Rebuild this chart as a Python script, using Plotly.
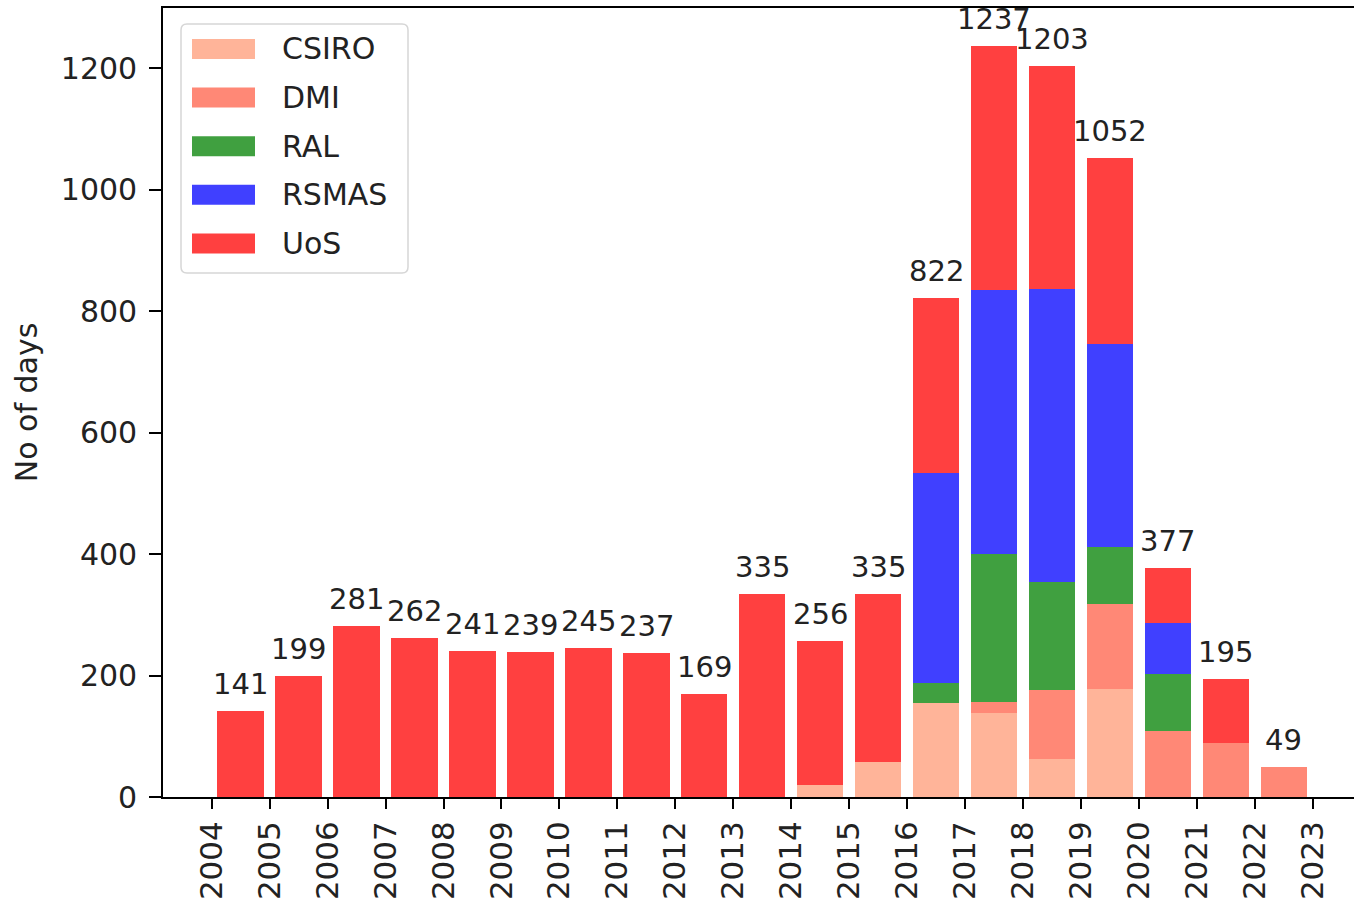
import plotly.graph_objects as go

years = list(range(2004, 2023))
tick_years = list(range(2004, 2024))
tick_labels = [str(y) for y in tick_years]

csiro = [0, 0, 0, 0, 0, 0, 0, 0, 0, 0, 20, 58, 154, 138, 62, 177, 0, 0, 0]
dmi   = [0, 0, 0, 0, 0, 0, 0, 0, 0, 0, 0, 0, 0, 19, 114, 140, 109, 89, 49]
ral   = [0, 0, 0, 0, 0, 0, 0, 0, 0, 0, 0, 0, 34, 243, 178, 95, 94, 0, 0]
rsmas = [0, 0, 0, 0, 0, 0, 0, 0, 0, 0, 0, 0, 345, 434, 483, 334, 83, 0, 0]
uos   = [141, 199, 281, 262, 241, 239, 245, 237, 169, 335, 236, 277, 289, 403, 366, 306, 91, 106, 0]

names = ["CSIRO", "DMI", "RAL", "RSMAS", "UoS"]
colors = ["#FFB499", "#FF8876", "#40A040", "#4040FF", "#FF4040"]
values = [csiro, dmi, ral, rsmas, uos]

xc = [y + 0.5 for y in years]
totals = [sum(v) for v in zip(csiro, dmi, ral, rsmas, uos)]

FONT = "DejaVu Sans"
FS = 29
TXT = "#222222"

# plot-area geometry in page pixels
PL, PR, PT, PB = 163, 1354, 8, 797


def px(x):
    return (x - PL) / (PR - PL)


def py(y):
    return (PB - y) / (PB - PT)


fig = go.Figure()
for name, vals, col in zip(names, values, colors):
    fig.add_trace(go.Bar(
        x=xc, y=vals, name=name, width=0.8,
        marker=dict(color=col, line=dict(width=0)),
        showlegend=False,
    ))

for x, t in zip(xc, totals):
    fig.add_annotation(x=x, y=t, text=str(t), showarrow=False,
                       xanchor="center", yanchor="bottom", yshift=8,
                       font=dict(family=FONT, size=FS, color=TXT))

# legend box (rounded)
bx0, bx1, by0, by1, r = 181, 408, 24, 273, 6
path = (f"M {px(bx0 + r)},{py(by0)} L {px(bx1 - r)},{py(by0)} "
        f"Q {px(bx1)},{py(by0)} {px(bx1)},{py(by0 + r)} "
        f"L {px(bx1)},{py(by1 - r)} Q {px(bx1)},{py(by1)} {px(bx1 - r)},{py(by1)} "
        f"L {px(bx0 + r)},{py(by1)} Q {px(bx0)},{py(by1)} {px(bx0)},{py(by1 - r)} "
        f"L {px(bx0)},{py(by0 + r)} Q {px(bx0)},{py(by0)} {px(bx0 + r)},{py(by0)} Z")
fig.add_shape(type="path", path=path, xref="paper", yref="paper",
              line=dict(color="#d6d6d6", width=1.5),
              fillcolor="rgba(255,255,255,0.8)", layer="above")
for i, (name, col) in enumerate(zip(names, colors)):
    cy = 49 + i * 48.6
    fig.add_shape(type="rect", xref="paper", yref="paper",
                  x0=px(192), x1=px(255), y0=py(cy + 10), y1=py(cy - 10),
                  fillcolor=col, line=dict(width=0), layer="above")
    fig.add_annotation(xref="paper", yref="paper", x=px(280), y=py(cy),
                       text=name, showarrow=False, xanchor="left", yanchor="middle",
                       font=dict(family=FONT, size=30, color=TXT))

fig.update_layout(
    barmode="stack",
    width=1354, height=906,
    margin=dict(l=163, r=0, t=8, b=109, autoexpand=False),
    paper_bgcolor="white", plot_bgcolor="white",
    font=dict(family=FONT, size=FS, color=TXT),
    showlegend=False,
    xaxis=dict(
        range=[2003.16, 2023.71], tickmode="array",
        tickvals=tick_years, ticktext=tick_labels, tickangle=-90,
        tickfont=dict(family=FONT, size=31, color=TXT),
        showgrid=False, zeroline=False,
        showline=True, linecolor="black", linewidth=1.6, mirror=True,
        ticks="outside", ticklen=10, tickwidth=1.5, tickcolor="black",
    ),
    yaxis=dict(
        range=[0, 1298.85], tickmode="array",
        tickvals=[0, 200, 400, 600, 800, 1000, 1200],
        tickfont=dict(family=FONT, size=30, color=TXT),
        showgrid=False, zeroline=False,
        showline=True, linecolor="black", linewidth=1.6,
        ticks="outside", ticklen=12, tickwidth=1.5, tickcolor="black",
        ticklabelstandoff=6,
        title=dict(text="No of days", font=dict(family=FONT, size=30), standoff=14),
    ),
)

fig.write_html("out.html",
               config={"displayModeBar": False},
               post_script="document.body.style.margin='0';document.body.style.overflow='hidden';")
